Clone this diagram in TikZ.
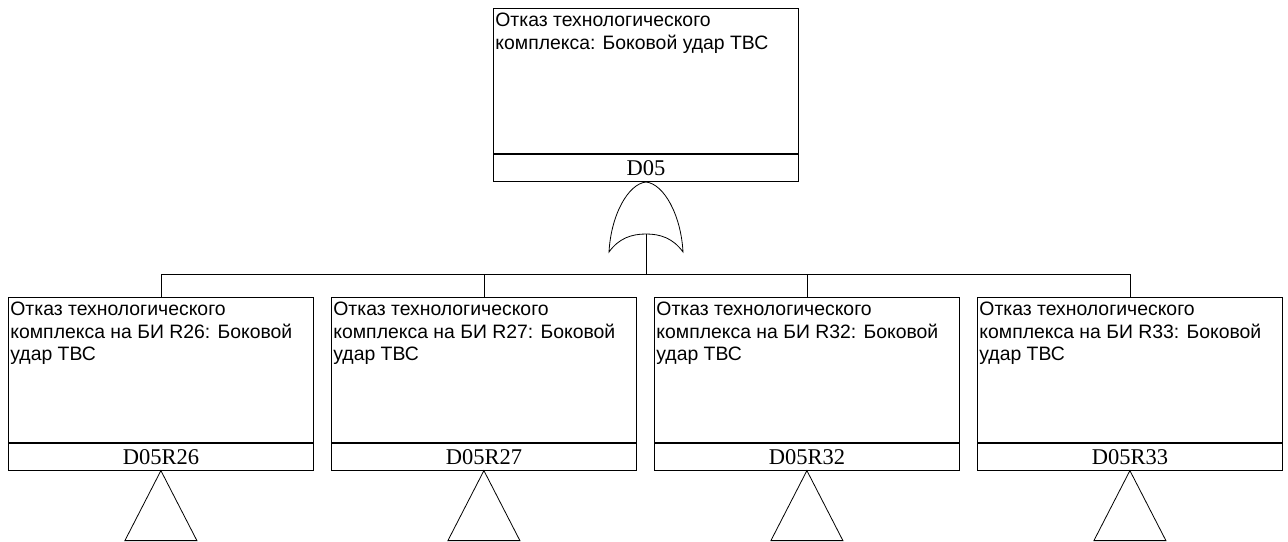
\documentclass[tikz,border=0pt]{standalone}
\usepackage{fontspec}
\setmainfont{Liberation Sans}
\newfontfamily\idfont{Liberation Serif}
\usetikzlibrary{positioning}

\tikzset{
  evbox/.style={draw, minimum width=305pt, minimum height=145pt, inner sep=0pt},
  evtext/.style={anchor=north west, align=left, inner xsep=2pt, inner ysep=5pt, font=\fontsize{19.4}{22.5}\selectfont},
  idbox/.style={draw, minimum width=305pt, minimum height=27pt, inner sep=0pt, font=\idfont\fontsize{22.5}{22.5}\selectfont},
  xfer/.style={draw}
}

\begin{document}
\begin{tikzpicture}[x=1pt, y=-1pt, line width=0.8pt]
  \useasboundingbox (0,0) rectangle (1288,541);

  % Top event
  \node[evbox, anchor=north west] (topbox) at (493,8) {};
  \node[evtext] (toptxt) at (topbox.north west) {Отказ технологического\\комплекса: Боковой удар ТВС};
  \node[idbox, below=0pt of topbox] (topid) {D05};

  % OR gate
  \draw (646,182) .. controls (664,184) and (681,215) .. (683,252)
        .. controls (673,238) and (660,234) .. (646,234)
        .. controls (632,234) and (619,238) .. (609,252)
        .. controls (611,215) and (628,184) .. (646,182);
  \coordinate (orout) at (646,234);
  \coordinate (bus) at (646,274);

  % Lower events
  \node[evbox, anchor=north west] (r26box) at (8,297) {};
  \node[evtext] (r26txt) at (r26box.north west) {Отказ технологического\\комплекса на БИ R26: Боковой\\удар ТВС};
  \node[idbox, below=0pt of r26box] (r26id) {D05R26};

  \node[evbox, anchor=north west] (r27box) at (331,297) {};
  \node[evtext] (r27txt) at (r27box.north west) {Отказ технологического\\комплекса на БИ R27: Боковой\\удар ТВС};
  \node[idbox, below=0pt of r27box] (r27id) {D05R27};

  \node[evbox, anchor=north west] (r32box) at (654,297) {};
  \node[evtext] (r32txt) at (r32box.north west) {Отказ технологического\\комплекса на БИ R32: Боковой\\удар ТВС};
  \node[idbox, below=0pt of r32box] (r32id) {D05R32};

  \node[evbox, anchor=north west] (r33box) at (977,297) {};
  \node[evtext] (r33txt) at (r33box.north west) {Отказ технологического\\комплекса на БИ R33: Боковой\\удар ТВС};
  \node[idbox, below=0pt of r33box] (r33id) {D05R33};

  % Connectors
  \draw (orout) -- (bus);
  \draw (bus) -| (r26box.north);
  \draw (bus) -| (r27box.north);
  \draw (bus) -| (r32box.north);
  \draw (bus) -| (r33box.north);

  % Transfer triangles
  \draw[xfer] (r26id.south) -- ++(-36,70) -- ++(72,0) -- cycle;
  \draw[xfer] (r27id.south) -- ++(-36,70) -- ++(72,0) -- cycle;
  \draw[xfer] (r32id.south) -- ++(-36,70) -- ++(72,0) -- cycle;
  \draw[xfer] (r33id.south) -- ++(-36,70) -- ++(72,0) -- cycle;
\end{tikzpicture}
\end{document}
